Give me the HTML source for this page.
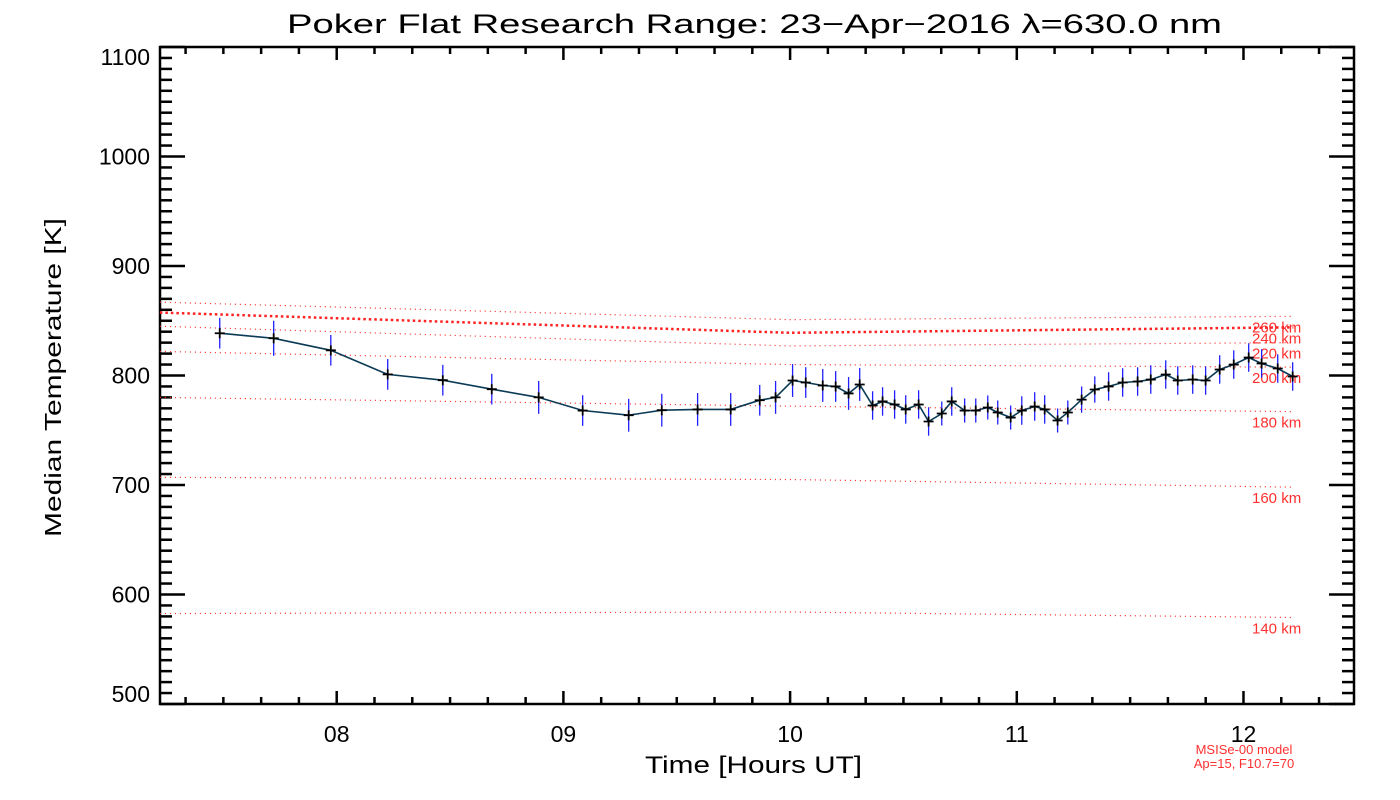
<!DOCTYPE html>
<html><head><meta charset="utf-8"><style>
body{margin:0;background:#fff;}
svg{display:block;font-family:"Liberation Sans","DejaVu Sans",sans-serif;}
</style></head><body>
<svg id="chart" width="1400" height="800" viewBox="0 0 1400 800" xmlns="http://www.w3.org/2000/svg">
<rect width="1400" height="800" fill="#fff"/>
<text x="287" y="33" font-size="27" textLength="935" lengthAdjust="spacingAndGlyphs">Poker Flat Research Range: 23−Apr−2016 λ=630.0 nm</text>
<text transform="translate(61,537) rotate(-90)" font-size="23" textLength="319" lengthAdjust="spacingAndGlyphs">Median Temperature [K]</text>
<text x="645" y="773" font-size="24" textLength="217" lengthAdjust="spacingAndGlyphs">Time [Hours UT]</text>
<text x="1244" y="754" font-size="13" fill="#ff3030" text-anchor="middle">MSISe-00 model</text>
<text x="1244" y="768" font-size="13" fill="#ff3030" text-anchor="middle">Ap=15, F10.7=70</text>
<g id="axes"></g><g id="model"></g><g id="series"></g>
</svg>
<script>
const hours=[7.484,7.722,7.974,8.225,8.468,8.684,8.891,9.085,9.288,9.434,9.592,9.738,9.866,9.936,10.011,10.069,10.144,10.201,10.258,10.307,10.364,10.408,10.461,10.510,10.567,10.611,10.669,10.713,10.770,10.819,10.872,10.916,10.973,11.022,11.079,11.123,11.180,11.225,11.286,11.344,11.405,11.467,11.533,11.591,11.657,11.710,11.776,11.833,11.895,11.957,12.023,12.080,12.151,12.217];
const temps=[838.6,834,823,801,795.7,787.5,780,768,763.7,768.3,769,769,777.4,780,795.4,793.6,790.9,790,783.6,791.8,772.6,776.3,773.5,769,773.5,758,765.3,776.3,768,768,770.8,766.2,761.6,768,771.7,769,758.9,766.2,778,787.2,790,793.6,794.5,796.3,800.9,795.4,796.3,795.4,805.5,810,816.4,811,806.4,799.1];
const errs=[14,16,14,14,14,14,15,14,15,15,15,15,14,15,15,14,15,14,15,15,13,13,13,13,13,13,11,13,11,11,11,11,11,13,13,13,11,11,12,12,13,13,13,13,13,13,13,13,13,13,13,13,13,13];
const modelHours=[7.22,10.0,12.22];
const modelLabels=["260 km","240 km","220 km","200 km","180 km","160 km","140 km"];
const modelT0=[867,857.5,845,822,780,707,582.6];
const modelT1=[851,839,827,810,772,705,584];
const modelT2=[854,844,830,807.6,767,698,579];
const yTicks=[500,600,700,800,900,1000,1100];
const xTicks=[8,9,10,11,12];
const xTickLabels=["08","09","10","11","12"];

const L=160,R=1354,T=47,B=704;
const xMin=7.2205,xMax=12.4875,yMin=500,yMax=1100;
const X=h=>L+(h-xMin)/(xMax-xMin)*(R-L);
const Y=t=>B-(t-yMin)/(yMax-yMin)*(B-T);
const NS="http://www.w3.org/2000/svg";
function mk(tag,at,parent){const e=document.createElementNS(NS,tag);for(const k in at)e.setAttribute(k,at[k]);parent.appendChild(e);return e;}
const ax=document.getElementById('axes'),md=document.getElementById('model'),sr=document.getElementById('series');
let frame=mk('rect',{x:L,y:T,width:R-L,height:B-T,fill:'none',stroke:'#000','stroke-width':2.5},ax);


for(let t=yMin;t<=yMax;t+=10){const y=Y(t);const maj=(t%100===0);const len=maj?25:12;
 mk('line',{x1:L,x2:L+len,y1:y,y2:y,stroke:'#000','stroke-width':2.5},ax);
 mk('line',{x1:R,x2:R-len,y1:y,y2:y,stroke:'#000','stroke-width':2.5},ax);}
yTicks.forEach(t=>{const yc=Math.min(694,Math.max(57,Y(t)));const e=mk('text',{x:L-10,y:yc+8,'font-size':23,'text-anchor':'end'},ax);e.textContent=t;
 
 });
for(let k=Math.ceil(xMin*6);k<=Math.floor(xMax*6);k++){const h=k/6;const x=X(h);const maj=(k%6===0);const len=maj?13:7;
 mk('line',{x1:x,x2:x,y1:B,y2:B-len,stroke:'#000','stroke-width':2.5},ax);
 mk('line',{x1:x,x2:x,y1:T,y2:T+len,stroke:'#000','stroke-width':2.5},ax);}
xTicks.forEach((h,i)=>{const e=mk('text',{x:X(h),y:742,'font-size':23,'text-anchor':'middle'},ax);e.textContent=xTickLabels[i];
 
 });
for(let i=0;i<modelT0.length;i++){const vals=[modelT0[i],modelT1[i],modelT2[i]];
 const d=modelHours.map((h,j)=>(j?'L':'M')+X(h)+','+Y(vals[j])).join(' ');
 const thick=(i===1);
 const p=mk('path',{d:d,fill:'none',stroke:'#ff2020','stroke-width':thick?2.5:1.2,'stroke-dasharray':thick?'2.5 3':'1 4'},md);
 
 
 const e=mk('text',{x:1252,y:Y(modelT2[i])+16,'font-size':15,fill:'#ff3030'},md);e.textContent=modelLabels[i];
 
 }
const ld=hours.map((h,i)=>(i?'L':'M')+X(h).toFixed(1)+','+Y(temps[i]).toFixed(1)).join(' ');
const line=mk('path',{d:ld,fill:'none',stroke:'#0a3a55','stroke-width':1.6},sr);


hours.forEach((h,i)=>{const x=X(h),y=Y(temps[i]);
 const eb=mk('line',{x1:x,x2:x,y1:Y(temps[i]+errs[i]),y2:Y(temps[i]-errs[i]),stroke:'#2020ff','stroke-width':1.3},sr);
 
 
 const pt=mk('path',{d:`M${x-5},${y}H${x+5}M${x},${y-5}V${y+5}`,stroke:'#000','stroke-width':1.8},sr);
 
 });
</script>
</body></html>
